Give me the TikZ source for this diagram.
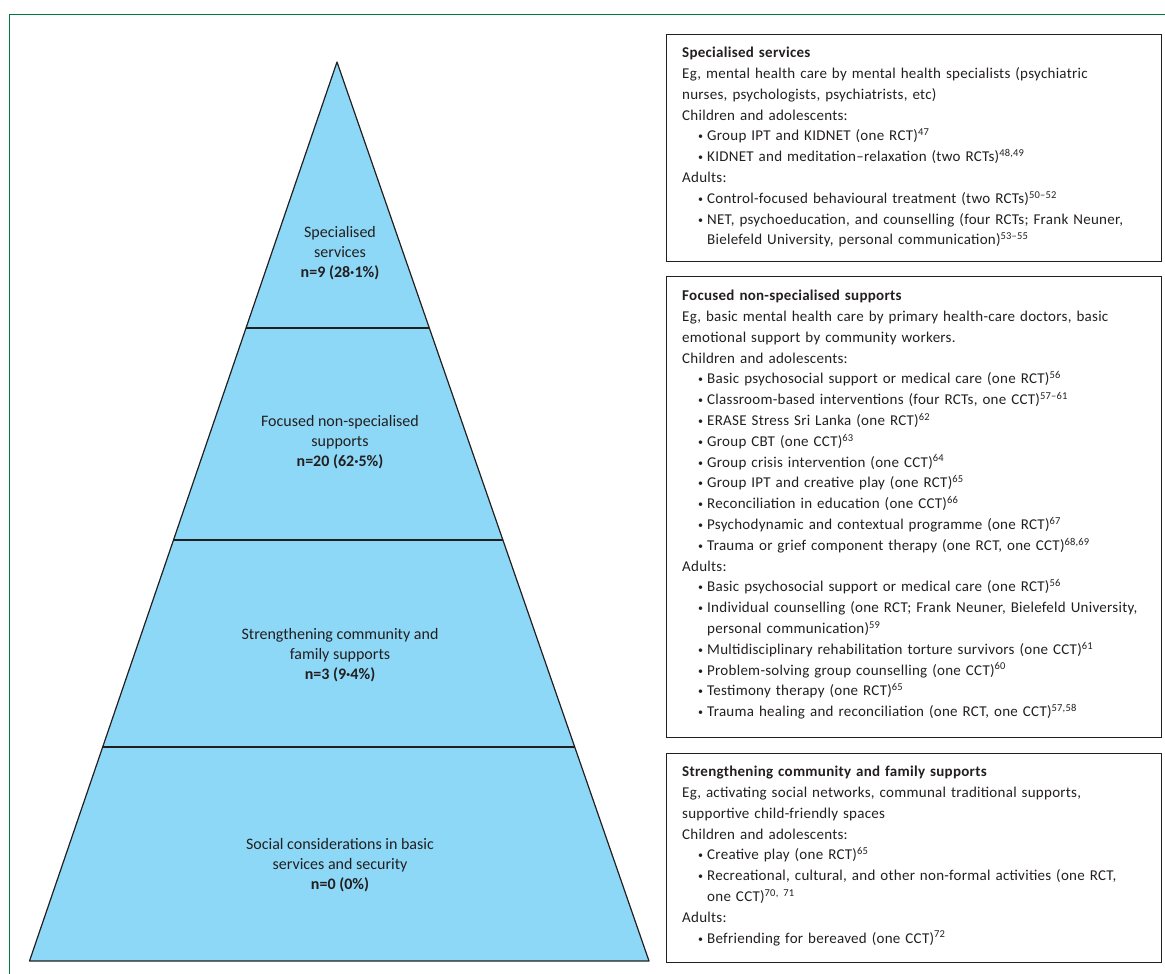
\documentclass[tikz,border=0pt]{standalone}
\usepackage{fontspec}
\setmainfont{Carlito}
\newfontfamily\panelfont{Carlito}[LetterSpace=1.8]
\usetikzlibrary{positioning,calc}
\definecolor{tierblue}{RGB}{142,216,247}
\definecolor{inkgray}{RGB}{35,31,32}
\definecolor{framegreen}{RGB}{0,122,61}
\newcommand{\rf}[1]{\textsuperscript{#1}}
\newcommand{\itm}{\makebox[25pt][r]{\raisebox{1pt}{\fontsize{10}{10}\selectfont\textbullet}\hspace{4pt}}}
\newcommand{\cnt}{\hspace*{25pt}}
\tikzset{
    tier/.style = {fill=tierblue, draw=inkgray, line width=1.2pt, line join=round},
    tierline/.style = {draw=inkgray, line width=1.4pt},
    tierlabel/.style = {align=center, text=inkgray, inner sep=0pt, font=\fontsize{16}{20.2}\selectfont},
    panel/.style = {draw=inkgray, line width=1.2pt, rectangle, anchor=north west, minimum width=495pt, inner sep=0pt},
    paneltext/.style = {anchor=north west, text width=475pt, align=left, text=inkgray, inner sep=0pt, font=\panelfont\fontsize{15}{20.8}\selectfont},
    greenframe/.style = {draw=framegreen, line width=1pt}
}

\begin{document}
\begin{tikzpicture}[x=1pt, y=-1pt]
    \useasboundingbox (0,0) rectangle (1165,974);
    \draw [greenframe] (1165,14.5) -| (9.5,974);

    % pyramid
    \coordinate (apex)  at (337,62);
    \coordinate (baseL) at (29.5,961);
    \coordinate (baseR) at (649,961);
    \draw [tier] (apex) -- (baseR) -- (baseL) -- cycle;
    \foreach \f in {0.2959, 0.5317, 0.762}
        \draw [tierline] ($(apex)!\f!(baseL)$) -- ($(apex)!\f!(baseR)$);

    \node [tierlabel] (specialised) at (340,253) {Specialised\\services\\\textbf{n=9 (28·1\%)}};
    \node [tierlabel] (focused)     at (340,442) {Focused non-specialised\\supports\\\textbf{n=20 (62·5\%)}};
    \node [tierlabel] (community)   at (340,655) {Strengthening community and\\family supports\\\textbf{n=3 (9·4\%)}};
    \node [tierlabel] (social)      at (340,865) {Social considerations in basic\\services and security\\\textbf{n=0 (0\%)}};

    % panels
    \node [panel, minimum height=227pt] (specpanel)  at (666,34)  {};
    \node [panel, minimum height=461pt] (focpanel)   at (666,276) {};
    \node [panel, minimum height=209pt] (commpanel)  at (666,753) {};

    \node [paneltext, xshift=16pt, yshift=-13pt] (spectext) at (specpanel.north west) {%
        \textbf{Specialised services}\\
        Eg, mental health care by mental health specialists (psychiatric\\
        nurses, psychologists, psychiatrists, etc)\\
        Children and adolescents:\\
        \itm Group IPT and KIDNET (one RCT)\rf{47}\\
        \itm KIDNET and meditation\textendash relaxation (two RCTs)\rf{48,49}\\
        Adults:\\
        \itm Control-focused behavioural treatment (two RCTs)\rf{50\textendash 52}\\
        \itm NET, psychoeducation, and counselling (four RCTs; Frank Neuner,\\
        \cnt Bielefeld University, personal communication)\rf{53\textendash 55}};
    \node [paneltext, xshift=16pt, yshift=-14pt] (foctext) at (focpanel.north west) {%
        \textbf{Focused non-specialised supports}\\
        Eg, basic mental health care by primary health-care doctors, basic\\
        emotional support by community workers.\\
        Children and adolescents:\\
        \itm Basic psychosocial support or medical care (one RCT)\rf{56}\\
        \itm Classroom-based interventions (four RCTs, one CCT)\rf{57\textendash 61}\\
        \itm ERASE Stress Sri Lanka (one RCT)\rf{62}\\
        \itm Group CBT (one CCT)\rf{63}\\
        \itm Group crisis intervention (one CCT)\rf{64}\\
        \itm Group IPT and creative play (one RCT)\rf{65}\\
        \itm Reconciliation in education (one CCT)\rf{66}\\
        \itm Psychodynamic and contextual programme (one RCT)\rf{67}\\
        \itm Trauma or grief component therapy (one RCT, one CCT)\rf{68,69}\\
        Adults:\\
        \itm Basic psychosocial support or medical care (one RCT)\rf{56}\\
        \itm Individual counselling (one RCT; Frank Neuner, Bielefeld University,\\
        \cnt personal communication)\rf{59}\\
        \itm Multidisciplinary rehabilitation torture survivors (one CCT)\rf{61}\\
        \itm Problem-solving group counselling (one CCT)\rf{60}\\
        \itm Testimony therapy (one RCT)\rf{65}\\
        \itm Trauma healing and reconciliation (one RCT, one CCT)\rf{57,58}};
    \node [paneltext, xshift=16pt, yshift=-13pt] (commtext) at (commpanel.north west) {%
        \textbf{Strengthening community and family supports}\\
        Eg, activating social networks, communal traditional supports,\\
        supportive child-friendly spaces\\
        Children and adolescents:\\
        \itm Creative play (one RCT)\rf{65}\\
        \itm Recreational, cultural, and other non-formal activities (one RCT,\\
        \cnt one CCT)\rf{70, 71}\\
        Adults:\\
        \itm Befriending for bereaved (one CCT)\rf{72}};
\end{tikzpicture}
\end{document}
